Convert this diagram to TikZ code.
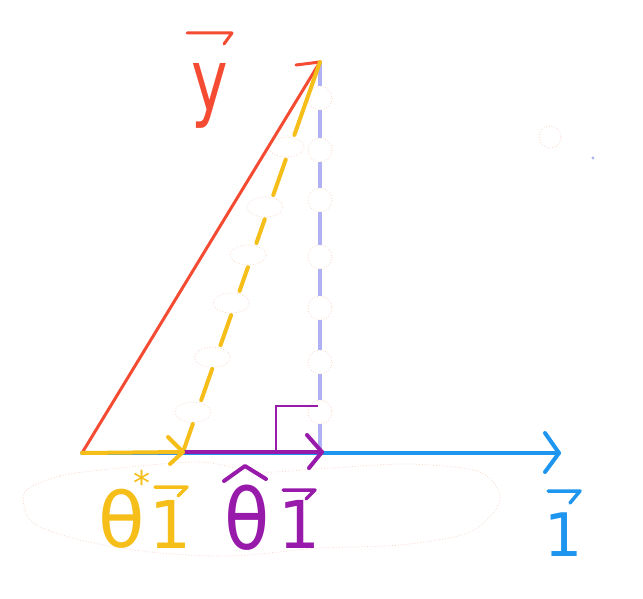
\documentclass[tikz,border=0pt]{standalone}
\usepackage{fontspec}
\setmainfont{DejaVu Sans}
\usetikzlibrary{calc}
\definecolor{cred}{RGB}{245,75,50}
\definecolor{cyel}{RGB}{245,190,25}
\definecolor{cpur}{RGB}{152,26,170}
\definecolor{cblu}{RGB}{30,150,240}
\definecolor{clav}{RGB}{176,176,245}
\definecolor{cpeach}{RGB}{245,215,200}
\tikzset{
  pen/.style={line width=#1, line cap=round, line join=round},
  ghost/.style={draw=cpeach, line width=0.8pt, dotted},
  lbl/.style={inner sep=0pt, outer sep=0pt}
}
\begin{document}
\begin{tikzpicture}[x=1pt,y=-1pt]
\useasboundingbox[fill=white] (0,0) rectangle (643,599);

% key points
\coordinate (O) at (82,453);
\coordinate (T) at (320,62);
\coordinate (P) at (183,452);
\coordinate (F) at (320,452);
\coordinate (E) at (559,453);

% faint erased blobs
\draw[ghost] plot[smooth cycle] coordinates {(25,492) (60,476) (120,468) (200,462) (260,472) (330,468) (410,464) (480,472) (500,500) (470,532) (400,545) (320,548) (230,556) (150,552) (80,540) (32,522)};
\foreach \yy in {98,150,200,257,308,362,412}
  \draw[ghost] (320,\yy) circle (12);
\foreach \tt in {0.218,0.372,0.495,0.618,0.757,0.898}
  \draw[ghost] ($(T)!\tt!(P)+(-4,0)$) ellipse (18 and 10);
\draw[ghost] (550,137) circle (11);
\fill[clav] (593,158) circle (1.6);

% blue axis vector
\draw[pen=4pt, cblu] (O) -- (E);
\draw[pen=4pt, cblu] (545,433) -- (E) -- (545,472);

% red vector y
\draw[pen=3pt, cred] (O) -- (T);
\draw[pen=3pt, cred] (296,65) -- (T);

% lavender dashed perpendicular
\foreach \a/\b in {62/86,110/138,162/188,212/245,269/296,320/350,374/400,424/450}
  \draw[pen=4pt, clav, line cap=butt] (320,\a) -- (320,\b);

% yellow dashed projection line
\foreach \a/\b in {0/0.187,0.250/0.341,0.403/0.464,0.526/0.587,0.649/0.726,0.787/0.867,0.928/1}
  \draw[pen=4pt, cyel] ($(T)!\a!(P)$) -- ($(T)!\b!(P)$);

% purple vector and right angle
\draw[pen=4pt, cpur] (P) -- (322,452);
\draw[pen=4pt, cpur] (307,435) -- (322,452) -- (309,468);
\draw[line width=2pt, cpur] (276,452) -- (276,406) -- (318,406);

% yellow vector
\draw[pen=4pt, cyel] (O) -- (P);
\draw[pen=4pt, cyel] (168,437) -- (P) -- (170,464);

% label y
\node[lbl, text=cred, font=\fontsize{86}{86}\selectfont] (ylab) at (210,96) {\scalebox{0.72}[1]{y}};
\draw[pen=3pt, cred] (187,33) -- (232,33) -- (224,44);

% label theta* 1
\node[lbl, anchor=base, text=cyel, font=\fontsize{76}{76}\selectfont] (th1) at (122,547)
  {θ\rlap{\hspace{-12pt}\raisebox{52pt}{\fontsize{34}{34}\selectfont *}}};
\node[lbl, text=cyel, font=\fontsize{66}{66}\selectfont] (one1) at (170,524) {1};
\draw[pen=3.5pt, cyel] (155,487) -- (187,487) -- (178,496);

% label theta-hat 1
\node[lbl, text=cpur, font=\fontsize{84}{84}\selectfont] (th2) at (247,518) {\scalebox{0.88}[1]{θ}};
\draw[pen=4pt, cpur] (224,481) -- (245,466) -- (266,479);
\node[lbl, text=cpur, font=\fontsize{66}{66}\selectfont] (one2) at (299,524) {1};
\draw[pen=3.5pt, cpur] (283,490) -- (315,490) -- (306,499);

% label 1 (blue)
\node[lbl, text=cblu, font=\fontsize{60}{60}\selectfont] (one3) at (564,535) {1};
\draw[pen=3.5pt, cblu] (548,491) -- (580,491) -- (570,503);
\end{tikzpicture}
\end{document}
